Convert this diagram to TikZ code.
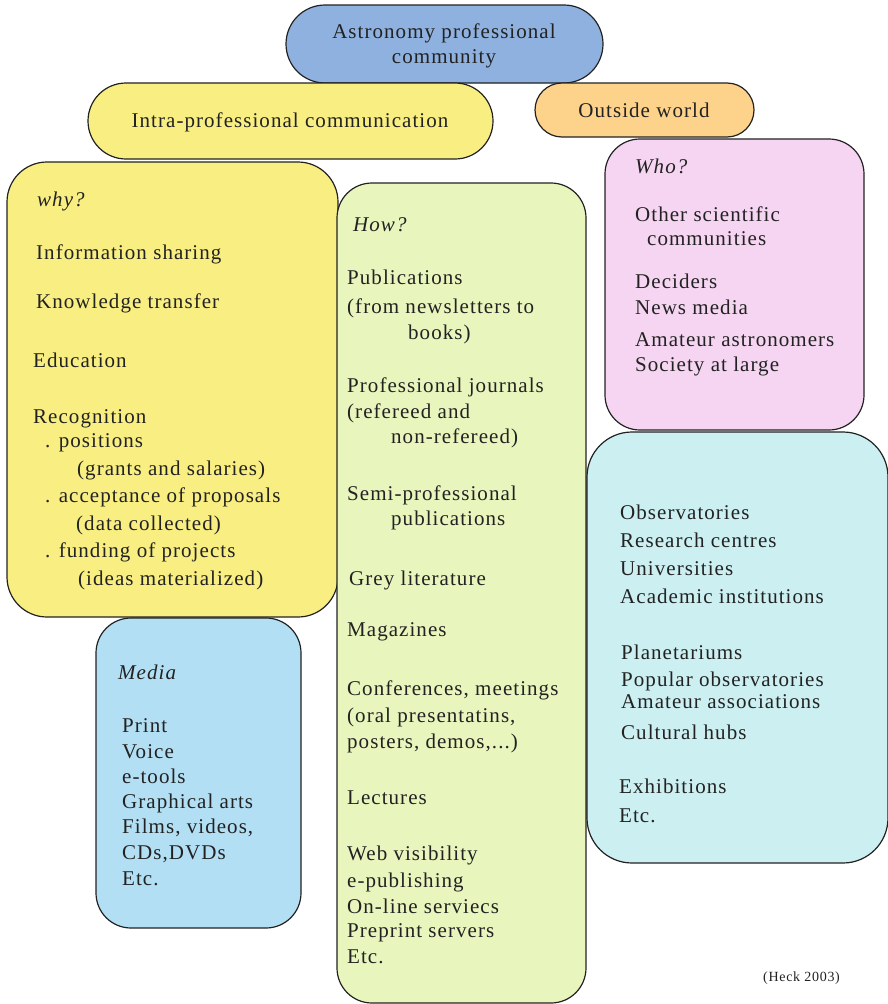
\documentclass[tikz,border=0pt]{standalone}
\usepackage{fontspec}
\setmainfont{Liberation Serif}[LetterSpace=5]
\definecolor{cAstro}{HTML}{8FB1DF}
\definecolor{cYel}{HTML}{F8EE82}
\definecolor{cOrange}{HTML}{FDD28A}
\definecolor{cGreen}{HTML}{E8F5BD}
\definecolor{cPink}{HTML}{F5D5F1}
\definecolor{cCyan}{HTML}{CCEFF2}
\definecolor{cMedia}{HTML}{B2DFF3}
\definecolor{cLine}{HTML}{222222}
\tikzset{
  box/.style={draw=cLine, line width=1.2pt, inner sep=0pt, rectangle},
  txt/.style={anchor=base west, inner sep=0pt, text=cLine, font=\fontsize{21}{26}\selectfont},
  ctxt/.style={anchor=base, inner sep=0pt, text=cLine, font=\fontsize{21}{26}\selectfont},
  itxt/.style={txt, font=\fontsize{21}{26}\selectfont\itshape},
}
\begin{document}
\begin{tikzpicture}[x=1pt,y=-1pt]
\useasboundingbox (0,0) rectangle (887,1004);
% pills
\node[box, fill=cAstro, rounded corners=39pt, minimum width=317pt, minimum height=78pt] (astro) at (444.5,44) {};
\node[box, fill=cYel, rounded corners=38pt, minimum width=405pt, minimum height=76pt] (intra) at (290.5,121) {};
\node[box, fill=cOrange, rounded corners=27pt, minimum width=219pt, minimum height=54pt] (outside) at (644.5,110) {};
\node[ctxt] (astroA) at (444,38) {Astronomy professional};
\node[ctxt] (astroB) at (444,63) {community};
\node[ctxt] (intraT) at (290,127) {Intra-professional communication};
\node[ctxt] (outT) at (644,117) {Outside world};
% big boxes
\node[box, fill=cYel, rounded corners=40pt, minimum width=331pt, minimum height=455pt] (why) at (172.5,389.5) {};
\node[box, fill=cGreen, rounded corners=35pt, minimum width=249pt, minimum height=820pt] (how) at (461.5,593) {};
\node[box, fill=cPink, rounded corners=35pt, minimum width=259pt, minimum height=291pt] (who) at (734.5,284.5) {};
\node[box, fill=cCyan, rounded corners=45pt, minimum width=301pt, minimum height=431pt] (inst) at (737.5,647.5) {};
\node[box, fill=cMedia, rounded corners=35pt, minimum width=205pt, minimum height=310pt] (media) at (198.5,773) {};
% why texts
\node[itxt] (w0) at (37,206) {why?};
\node[txt] (w1) at (36,259) {Information sharing};
\node[txt] (w2) at (36,308) {Knowledge transfer};
\node[txt] (w3) at (33,367) {Education};
\node[txt] (w4) at (33,423) {Recognition};
\node[txt] (w5) at (45,447) {. positions};
\node[txt] (w6) at (77,475) {(grants and salaries)};
\node[txt] (w7) at (45,502) {. acceptance of proposals};
\node[txt] (w8) at (76,530) {(data collected)};
\node[txt] (w9) at (45,557) {. funding of projects};
\node[txt] (w10) at (78,585) {(ideas materialized)};
% how texts
\node[itxt] (h0) at (353,231) {How?};
\node[txt] (h1) at (347,284) {Publications};
\node[txt] (h2) at (347,313) {(from newsletters to};
\node[txt] (h3) at (408,339) {books)};
\node[txt] (h4) at (347,392) {Professional journals};
\node[txt] (h5) at (347,418) {(refereed and};
\node[txt] (h6) at (391,443) {non-refereed)};
\node[txt] (h7) at (347,500) {Semi-professional};
\node[txt] (h8) at (391,525) {publications};
\node[txt] (h9) at (349,585) {Grey literature};
\node[txt] (h10) at (347,636) {Magazines};
\node[txt] (h11) at (347,695) {Conferences, meetings};
\node[txt] (h12) at (347,722) {(oral presentatins,};
\node[txt] (h13) at (347,748) {posters, demos,...)};
\node[txt] (h14) at (347,804) {Lectures};
\node[txt] (h15) at (347,860) {Web visibility};
\node[txt] (h16) at (347,887) {e-publishing};
\node[txt] (h17) at (347,913) {On-line serviecs};
\node[txt] (h18) at (347,937) {Preprint servers};
\node[txt] (h19) at (347,963) {Etc.};
% who texts
\node[itxt] (o0) at (635,173) {Who?};
\node[txt] (o1) at (635,221) {Other scientific};
\node[txt] (o2) at (647,245) {communities};
\node[txt] (o3) at (635,288) {Deciders};
\node[txt] (o4) at (635,314) {News media};
\node[txt] (o5) at (635,346) {Amateur astronomers};
\node[txt] (o6) at (635,371) {Society at large};
% institutions
\node[txt] (i1) at (620,519) {Observatories};
\node[txt] (i2) at (620,547) {Research centres};
\node[txt] (i3) at (620,575) {Universities};
\node[txt] (i4) at (620,603) {Academic institutions};
\node[txt] (i5) at (621,659) {Planetariums};
\node[txt] (i6) at (621,686) {Popular observatories};
\node[txt] (i7) at (621,708) {Amateur associations};
\node[txt] (i8) at (621,739) {Cultural hubs};
\node[txt] (i9) at (619,793) {Exhibitions};
\node[txt] (i10) at (619,822) {Etc.};
% media
\node[itxt] (m0) at (118,679) {Media};
\node[txt] (m1) at (122,732) {Print};
\node[txt] (m2) at (122,758) {Voice};
\node[txt] (m3) at (122,783) {e-tools};
\node[txt] (m4) at (122,808) {Graphical arts};
\node[txt] (m5) at (122,833) {Films, videos,};
\node[txt] (m6) at (122,859) {CDs,DVDs};
\node[txt] (m7) at (122,885) {Etc.};
% source
\node[txt, font=\fontsize{14}{16}\selectfont] (src) at (763,981) {(Heck 2003)};
\end{tikzpicture}
\end{document}
